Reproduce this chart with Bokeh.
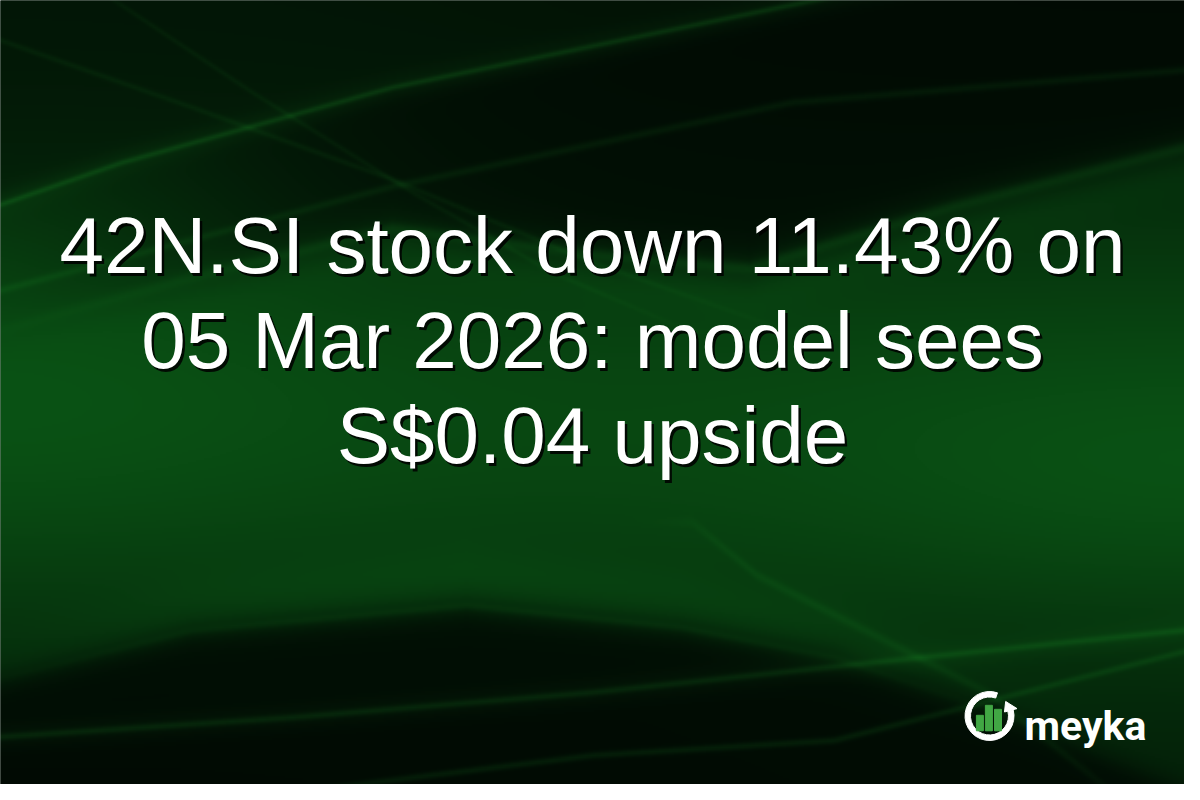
import numpy as np
from bokeh.plotting import figure
from bokeh.models import Range1d
from bokeh.core.properties import value
from bokeh.embed import file_html
from bokeh.resources import INLINE

# ---------------- content ----------------
title_lines = ["42N.SI stock down 11.43% on", "05 Mar 2026: model sees", "S$0.04 upside"]
brand_name = ["meyka"]
logo_bar_heights = [15.5, 25.5, 21.5]  # icon bar heights (reference px)

# ---------------- layout ----------------
REF_W, REF_H = 1200, 800
MARGIN = 8
FIG_W, FIG_H = REF_W - 2 * MARGIN, REF_H - 2 * MARGIN


def Yd(y):
    return REF_H - y


title_x = 600
title_baselines = [253, 348, 443]
title_size = 80
logo_cx, logo_cy = 997, 723.5
logo_r_in, logo_r_out = 19.0, 24.5
bar_x = [987.4, 996.4, 1005.5]
bar_bottom = 738.3
brand_x, brand_base, brand_size = 1032, 733, 41

# ---------------- background image ----------------
nx, ny = 600, 400
xs = (np.arange(nx) + 0.5) * REF_W / nx
ys = (np.arange(ny) + 0.5) * REF_H / ny
X, Y = np.meshgrid(xs, ys)


def cv(px, py):
    return np.interp(X, px, py)


def sig(z):
    return 1.0 / (1.0 + np.exp(-np.clip(z, -50, 50)))


def streak(cy, a, w):
    return a * np.exp(-((Y - cy) / w) ** 2)


T1 = cv([0, 130, 400, 860, 1200], [215, 170, 95, 0, -60])
T2 = cv([0, 200, 400, 600, 800], [45, 115, 187, 270, 340])
T3 = cv([110, 260, 420, 560, 700], [0, 100, 200, 280, 340])
T4 = cv([0, 400, 800, 1200], [300, 194, 110, 77])
T5 = cv([0, 200, 400, 600, 757, 961, 1200], [340, 285, 236, 262, 276, 214, 153])
Hc = cv([0, 200, 474, 689, 842, 1000, 1200], [690, 640, 615, 637, 667, 720, 800])
Lc = cv([0, 300, 600, 900, 1200], [745, 725, 700, 668, 637])
B1 = cv([300, 600, 842, 1200], [800, 763, 748, 657])
D1 = cv([700, 765, 995, 1120], [530, 583, 700, 800])

b = 0.30 + 0.60 * np.exp(-((Y - 430) / 250) ** 2)
b += 0.20 * np.exp(-(X / 380) ** 2) * np.exp(-((Y - 370) / 190) ** 2)
b += 0.20 * np.exp(-((X - 1200) / 380) ** 2) * np.exp(-((Y - 500) / 140) ** 2)
b *= 1 - 0.40 * sig((T1 - Y) / 6)
trough = sig((Y - T1) / 6) * sig((T5 - Y) / 12) * sig((X - 230) / 110)
b *= 1 - 0.85 * trough
b *= 1 - 0.5 * sig((X - 600) / 150) * sig((90 - Y) / 40)
b += 0.10 * np.exp(-((Y - (T5 + 25)) / 25) ** 2) * sig((X - 300) / 100)
b += 0.14 * np.exp(-((Y - (Hc - 32)) / 30) ** 2) * sig((X - 150) / 80) * sig((950 - X) / 80)
b *= 1 - 0.85 * sig((Y - Hc) / 8)
b *= 1 - 0.50 * sig((Y - Lc) / 5) * sig((750 - X) / 150)

s = np.zeros_like(X)
s += streak(T1, 0.18, 3.0) + streak(T1, 0.06, 14)
s += streak(T2, 0.08, 3.0) * sig((700 - X) / 60)
s += streak(T3, 0.07, 3.0) * sig((X - 100) / 20) * sig((640 - X) / 50)
s += streak(T4, 0.10, 4.0)
s += streak(T5, 0.12, 6.0) * sig((X - 150) / 100)
s += streak(Lc, 0.14, 3.5) + streak(Lc, 0.05, 14)
s += streak(B1, 0.13, 3.5) * sig((X - 320) / 30)
s += streak(D1, 0.08, 5.0) * sig((X - 700) / 20) * sig((1120 - X) / 20)
s += streak(Hc - 2, 0.07, 4.0) * sig((X - 100) / 80) * sig((900 - X) / 80)

D = np.array([1, 9, 3], dtype=float)
Bc = np.array([9, 76, 19], dtype=float)
Sc = np.array([28, 135, 38], dtype=float)
col = D[None, None, :] + (Bc - D)[None, None, :] * b[..., None] + Sc[None, None, :] * s[..., None]
col = np.clip(col, 0, 255).astype(np.uint8)

rgba = np.zeros((ny, nx, 4), dtype=np.uint8)
rgba[..., :3] = col
rgba[..., 3] = 255
img = rgba.view(np.uint32).reshape(ny, nx)[::-1].copy()

# ---------------- figure ----------------
p = figure(width=FIG_W, height=FIG_H,
           x_range=Range1d(MARGIN, REF_W - MARGIN), y_range=Range1d(MARGIN, REF_H - MARGIN),
           output_backend="svg", toolbar_location=None, x_axis_type=None, y_axis_type=None,
           min_border=0)
p.grid.visible = False
p.outline_line_color = None
p.background_fill_color = "#02140a"
p.border_fill_color = "#02140a"

p.image_rgba(image=[img], x=0, y=0, dw=REF_W, dh=REF_H)

ty = [Yd(v) for v in title_baselines]
p.text(x=[title_x] * len(title_lines), y=ty, text=title_lines,
       text_font=value("Liberation Sans"), text_font_size=f"{title_size}px",
       text_color="black", text_alpha=0.85, text_align="center", text_baseline="alphabetic",
       x_offset=2.5, y_offset=2.5)
p.text(x=[title_x] * len(title_lines), y=ty, text=title_lines,
       text_font=value("Liberation Sans"), text_font_size=f"{title_size}px",
       text_color="white", text_align="center", text_baseline="alphabetic")

# logo ring
p.annular_wedge(x=[logo_cx], y=[Yd(logo_cy)], inner_radius=logo_r_in, outer_radius=logo_r_out,
                start_angle=np.radians(71), end_angle=np.radians(15), direction="anticlock",
                color="white")
a0, a1 = np.radians(15), np.radians(42)
rm = (logo_r_in + logo_r_out) / 2
tri_x = [logo_cx + 15.5 * np.cos(a0), logo_cx + 28.5 * np.cos(a0), logo_cx + rm * np.cos(a1)]
tri_y = [Yd(logo_cy) + 15.5 * np.sin(a0), Yd(logo_cy) + 28.5 * np.sin(a0), Yd(logo_cy) + rm * np.sin(a1)]
p.patch(tri_x, tri_y, color="white")

p.vbar(x=bar_x, bottom=Yd(bar_bottom), top=[Yd(bar_bottom) + h for h in logo_bar_heights],
       width=7, color="#41a744")

p.text(x=[brand_x], y=[Yd(brand_base)], text=brand_name, text_font=value("Roboto"),
       text_font_style="bold", text_font_size=f"{brand_size}px", text_color="white",
       text_align="left", text_baseline="alphabetic")

open("out.html", "w").write(file_html(p, INLINE))
